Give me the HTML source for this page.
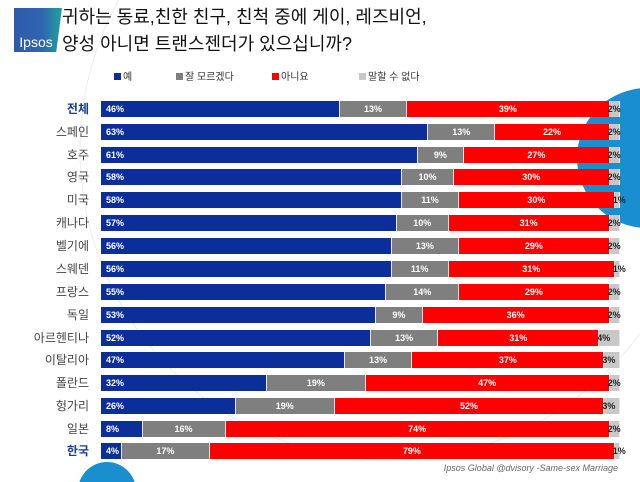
<!DOCTYPE html>
<html><head><meta charset="utf-8"><style>
html,body{margin:0;padding:0;width:640px;height:482px;overflow:hidden}
body{background:#fff;font-family:"Liberation Sans","Noto Sans CJK KR",sans-serif}
#w{position:relative;width:640px;height:482px;overflow:hidden}
.row{position:absolute;left:101px;width:519px;height:16px;display:flex}
.row div{height:16px;line-height:16px;font-size:9px;font-weight:bold;color:#fff;text-align:center;overflow:visible;white-space:nowrap;border-right:1px solid #e8e8e8;box-sizing:border-box}
.b{background:#0b2e9a;text-align:left!important;padding-left:5px}
.g{background:#7f7f7f}.r{background:#fe0000}.l{background:#c8c8c8;color:#222!important;text-align:left!important;text-indent:-2px}
.lab{position:absolute;right:551px;font-size:12px;color:#444;line-height:16px}
.k{color:#1a3d8f;font-weight:bold}
.leg{position:absolute;top:68px;font-size:10px;color:#333}
.leg i{display:inline-block;width:7px;height:7px;margin-right:2px}
</style></head><body><div id="w">
<svg width="640" height="482" style="position:absolute;left:0;top:0">
<circle cx="390" cy="150" r="310" fill="none" stroke="#ececec" stroke-width="1"/>
<circle cx="647" cy="158" r="70" fill="#1a8fd0"/>
<circle cx="107" cy="491" r="29" fill="#1a8fd0"/>
</svg>
<div style="position:absolute;left:14px;top:8px;width:48px;height:44px;background:linear-gradient(90deg,#2f5aa8 0%,#2f66b0 60%,#1fa39a 100%);clip-path:polygon(0 0,100% 0,88% 100%,0 100%)"></div>
<div style="position:absolute;left:14px;top:34px;color:#fff;font-size:14px;width:44px;text-align:center">Ipsos</div>
<div style="position:absolute;left:62px;top:4px;font-size:18px;line-height:27px;color:#111">귀하는 동료,친한 친구, 친척 중에 게이, 레즈비언,<br>양성 아니면 트랜스젠더가 있으십니까?</div>
<div class="leg" style="left:114px"><i style="background:#0b2e9a"></i>예</div>
<div class="leg" style="left:176px"><i style="background:#7f7f7f"></i>잘 모르겠다</div>
<div class="leg" style="left:272px"><i style="background:#fe0000"></i>아니요</div>
<div class="leg" style="left:359px"><i style="background:#c8c8c8"></i>말할 수 없다</div>

<div class="lab k" style="top:101px">전체</div>
<div class="row" style="top:101px"><div class="b" style="width:46%">46%</div><div class="g" style="width:13%">13%</div><div class="r" style="width:39%">39%</div><div class="l" style="width:2%">2%</div></div>
<div class="lab" style="top:124px">스페인</div>
<div class="row" style="top:124px"><div class="b" style="width:63%">63%</div><div class="g" style="width:13%">13%</div><div class="r" style="width:22%">22%</div><div class="l" style="width:2%">2%</div></div>
<div class="lab" style="top:147px">호주</div>
<div class="row" style="top:147px"><div class="b" style="width:61%">61%</div><div class="g" style="width:9%">9%</div><div class="r" style="width:28%">27%</div><div class="l" style="width:2%">2%</div></div>
<div class="lab" style="top:169px">영국</div>
<div class="row" style="top:169px"><div class="b" style="width:58%">58%</div><div class="g" style="width:10%">10%</div><div class="r" style="width:30%">30%</div><div class="l" style="width:2%">2%</div></div>
<div class="lab" style="top:192px">미국</div>
<div class="row" style="top:192px"><div class="b" style="width:58%">58%</div><div class="g" style="width:11%">11%</div><div class="r" style="width:30%">30%</div><div class="l" style="width:1%">1%</div></div>
<div class="lab" style="top:215px">캐나다</div>
<div class="row" style="top:215px"><div class="b" style="width:57%">57%</div><div class="g" style="width:10%">10%</div><div class="r" style="width:31%">31%</div><div class="l" style="width:2%">2%</div></div>
<div class="lab" style="top:238px">벨기에</div>
<div class="row" style="top:238px"><div class="b" style="width:56%">56%</div><div class="g" style="width:13%">13%</div><div class="r" style="width:29%">29%</div><div class="l" style="width:2%">2%</div></div>
<div class="lab" style="top:261px">스웨덴</div>
<div class="row" style="top:261px"><div class="b" style="width:56%">56%</div><div class="g" style="width:11%">11%</div><div class="r" style="width:32%">31%</div><div class="l" style="width:1%">1%</div></div>
<div class="lab" style="top:284px">프랑스</div>
<div class="row" style="top:284px"><div class="b" style="width:55%">55%</div><div class="g" style="width:14%">14%</div><div class="r" style="width:29%">29%</div><div class="l" style="width:2%">2%</div></div>
<div class="lab" style="top:307px">독일</div>
<div class="row" style="top:307px"><div class="b" style="width:53%">53%</div><div class="g" style="width:9%">9%</div><div class="r" style="width:36%">36%</div><div class="l" style="width:2%">2%</div></div>
<div class="lab" style="top:330px">아르헨티나</div>
<div class="row" style="top:330px"><div class="b" style="width:52%">52%</div><div class="g" style="width:13%">13%</div><div class="r" style="width:31%">31%</div><div class="l" style="width:4%">4%</div></div>
<div class="lab" style="top:352px">이탈리아</div>
<div class="row" style="top:352px"><div class="b" style="width:47%">47%</div><div class="g" style="width:13%">13%</div><div class="r" style="width:37%">37%</div><div class="l" style="width:3%">3%</div></div>
<div class="lab" style="top:375px">폴란드</div>
<div class="row" style="top:375px"><div class="b" style="width:32%">32%</div><div class="g" style="width:19%">19%</div><div class="r" style="width:47%">47%</div><div class="l" style="width:2%">2%</div></div>
<div class="lab" style="top:398px">헝가리</div>
<div class="row" style="top:398px"><div class="b" style="width:26%">26%</div><div class="g" style="width:19%">19%</div><div class="r" style="width:52%">52%</div><div class="l" style="width:3%">3%</div></div>
<div class="lab" style="top:421px">일본</div>
<div class="row" style="top:421px"><div class="b" style="width:8%">8%</div><div class="g" style="width:16%">16%</div><div class="r" style="width:74%">74%</div><div class="l" style="width:2%">2%</div></div>
<div class="lab k" style="top:443px">한국</div>
<div class="row" style="top:443px"><div class="b" style="width:4%">4%</div><div class="g" style="width:17%">17%</div><div class="r" style="width:78%">79%</div><div class="l" style="width:1%">1%</div></div>

<div style="position:absolute;right:22px;top:463px;font-size:9px;font-style:italic;color:#666">Ipsos Global @dvisory -Same-sex Marriage</div>
</div></body></html>
